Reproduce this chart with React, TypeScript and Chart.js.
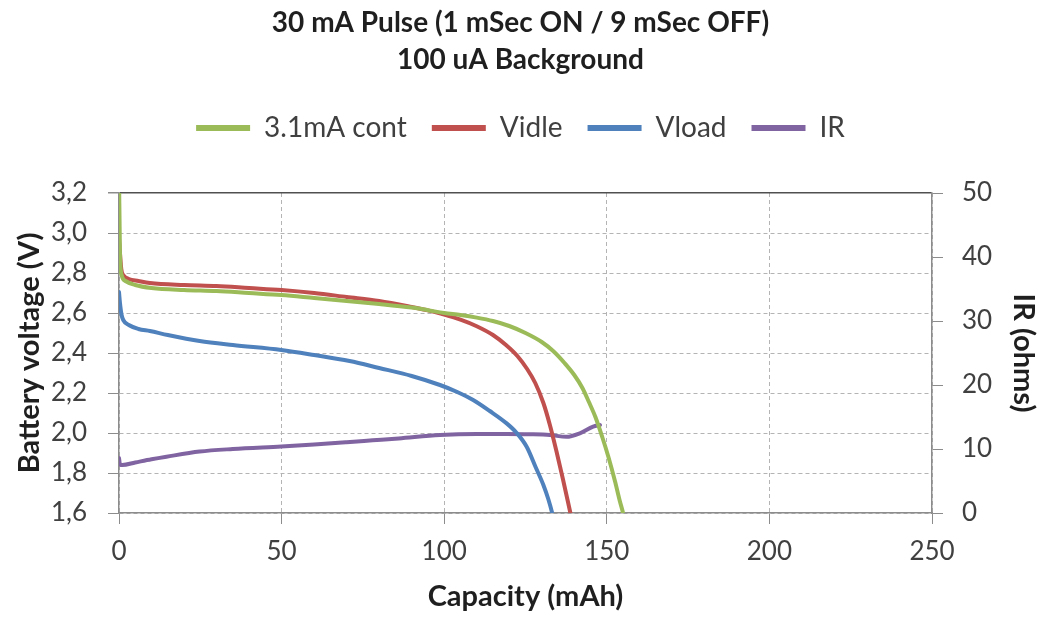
import React, { useEffect, useRef } from 'react';
import { Chart, registerables } from 'chart.js';

Chart.register(...registerables);

const titleLines = ['30 mA Pulse (1 mSec ON / 9 mSec OFF)', '100 uA Background'];
const seriesNames = ['3.1mA cont', 'Vidle', 'Vload', 'IR'];
const seriesColors = ['#9BBB59', '#C0504D', '#4F81BD', '#8064A2'];
const xTitle = 'Capacity (mAh)';
const leftTitle = 'Battery voltage (V)';
const rightTitle = 'IR (ohms)';

// 3.1mA continuous discharge (V)
const contX = [0, 0.3, 0.8, 2, 5, 10, 20, 30, 40, 50, 60, 70, 80, 90, 95, 100, 105, 110, 115, 120, 125, 130, 133.5, 137, 140, 142.5, 144.5, 146.5, 148.6, 150.5, 152.5, 154, 155, 155.4];
const contY = [3.3, 2.9, 2.79, 2.76, 2.74, 2.725, 2.715, 2.71, 2.7, 2.69, 2.675, 2.66, 2.645, 2.627, 2.614, 2.6, 2.59, 2.577, 2.56, 2.535, 2.5, 2.455, 2.41, 2.35, 2.29, 2.225, 2.155, 2.08, 1.98, 1.88, 1.76, 1.66, 1.6, 1.57];

// Vidle (V)
const idleX = [0, 0.3, 0.7, 1.3, 3, 6, 9.5, 20, 30, 40, 50, 60, 70, 80, 90, 95, 100, 105, 110, 115, 119, 122.5, 125.5, 128, 130.5, 132.5, 134.5, 136.5, 138, 138.8, 139.2];
const idleY = [2.97, 2.9, 2.82, 2.79, 2.77, 2.76, 2.75, 2.74, 2.735, 2.725, 2.715, 2.7, 2.68, 2.66, 2.63, 2.613, 2.592, 2.567, 2.534, 2.49, 2.44, 2.385, 2.32, 2.25, 2.15, 2.04, 1.91, 1.77, 1.66, 1.6, 1.57];

// Vload (V)
const loadX = [0, 0.3, 0.8, 1.3, 3, 6, 9.5, 15, 24.8, 35, 49.9, 60, 70.9, 80, 90, 98.7, 104, 108.9, 114, 119.2, 122.3, 125.4, 128.1, 130.5, 132, 133.2, 133.6];
const loadY = [2.705, 2.65, 2.59, 2.565, 2.54, 2.52, 2.51, 2.49, 2.46, 2.44, 2.415, 2.39, 2.36, 2.325, 2.285, 2.24, 2.205, 2.165, 2.11, 2.048, 2.0, 1.93, 1.83, 1.74, 1.67, 1.6, 1.57];

// IR (ohms)
const irX = [0, 0.3, 1, 5, 10, 14.6, 24.8, 35, 49.9, 60, 70, 78, 86, 98.7, 110, 119.2, 126, 132.5, 137.6, 141.7, 145.8, 147.9];
const irY = [8.6, 7.6, 7.5, 7.9, 8.4, 8.8, 9.6, 10.0, 10.4, 10.7, 11.05, 11.35, 11.65, 12.19, 12.35, 12.34, 12.3, 12.19, 11.9, 12.45, 13.5, 13.75];

const xTickValues = [0, 50, 100, 150, 200, 250];
const xTickLabels = ['0', '50', '100', '150', '200', '250'];
const leftTickValues = [1.6, 1.8, 2.0, 2.2, 2.4, 2.6, 2.8, 3.0, 3.2];
const leftTickLabels = ['1,6', '1,8', '2,0', '2,2', '2,4', '2,6', '2,8', '3,0', '3,2'];
const rightTickValues = [0, 10, 20, 30, 40, 50];
const rightTickLabels = ['0', '10', '20', '30', '40', '50'];

const FONT = "Lato, 'Open Sans', sans-serif";
const TICK_COLOR = '#404040';
const TITLE_COLOR = '#1f1f1f';
const GRID_COLOR = '#b4b4b4';
const AXIS_COLOR = '#8c8c8c';

const pts = (xs: number[], ys: number[]) => xs.map((x, i) => ({ x, y: ys[i] }));

export default function App() {
  const ref = useRef<HTMLCanvasElement | null>(null);

  useEffect(() => {
    if (!ref.current) return;
    const seriesData = [pts(contX, contY), pts(idleX, idleY), pts(loadX, loadY), pts(irX, irY)];
    const chart = new Chart(ref.current, {
      type: 'line',
      data: {
        datasets: seriesNames.map((name, i) => ({
          label: name,
          data: seriesData[i],
          borderColor: seriesColors[i],
          backgroundColor: seriesColors[i],
          borderWidth: 4,
          pointRadius: 0,
          cubicInterpolationMode: 'monotone' as const,
          borderCapStyle: 'round' as const,
          borderJoinStyle: 'round' as const,
          yAxisID: i === 3 ? 'y1' : 'y',
        })),
      },
      options: {
        animation: false,
        responsive: false,
        events: [],
        layout: { padding: 0 },
        plugins: {
          tooltip: { enabled: false },
          title: {
            display: true,
            text: titleLines,
            color: TITLE_COLOR,
            font: { family: FONT, size: 28, weight: 'bold', lineHeight: 37 / 28 },
            padding: { top: 4.5, bottom: 10.5 },
          },
          legend: {
            display: true,
            position: 'top',
            weight: 1000,
            labels: {
              color: '#404040',
              font: { family: FONT, size: 28 },
              boxWidth: 54,
              boxHeight: 6,
              padding: 25,
              generateLabels: (c: any) =>
                (Chart.defaults.plugins.legend.labels as any).generateLabels(c).map((l: any) => ({
                  ...l,
                  lineWidth: 0,
                  fillStyle: seriesColors[l.datasetIndex],
                  strokeStyle: seriesColors[l.datasetIndex],
                })),
            },
          } as any,
          subtitle: {
            display: true,
            text: '',
            weight: 500,
            font: { size: 1, lineHeight: 1.2 },
            padding: { top: 39.8, bottom: 0 },
          } as any,
        },
        scales: {
          x: {
            type: 'linear',
            min: 0,
            max: 250,
            afterBuildTicks: (s: any) => { s.ticks = xTickValues.map((v) => ({ value: v })); },
            afterFit: (s: any) => { s.height = 108; },
            ticks: {
              color: TICK_COLOR,
              font: { family: FONT, size: 26 },
              padding: 12.4,
              maxRotation: 0,
              callback: (_v: any, i: number) => xTickLabels[i],
            },
            grid: { color: GRID_COLOR, tickColor: AXIS_COLOR, tickLength: 11, tickBorderDash: [] },
            border: { display: true, color: AXIS_COLOR, width: 1.5, dash: [4, 3] },
            title: {
              display: true,
              text: xTitle,
              color: TITLE_COLOR,
              font: { family: FONT, size: 29, weight: 'bold', lineHeight: 1.2 },
              padding: { top: 0, bottom: 6.6 },
            },
          },
          y: {
            type: 'linear',
            position: 'left',
            min: 1.6,
            max: 3.2,
            afterBuildTicks: (s: any) => { s.ticks = leftTickValues.map((v) => ({ value: v })); },
            afterFit: (s: any) => { s.width = 119; },
            ticks: {
              color: TICK_COLOR,
              font: { family: FONT, size: 26 },
              padding: 21,
              callback: (_v: any, i: number) => leftTickLabels[i],
            },
            grid: {
              color: (ctx: any) => (ctx.tick && ctx.tick.value >= 3.19 ? '#505050' : GRID_COLOR),
              lineWidth: (ctx: any) => (ctx.tick && ctx.tick.value >= 3.19 ? 1.5 : 1),
              tickColor: AXIS_COLOR,
              tickLength: 11,
              tickBorderDash: [],
            },
            border: {
              display: true,
              color: AXIS_COLOR,
              width: 1.5,
              dash: (ctx: any) => (ctx.tick && ctx.tick.value >= 3.19 ? [] : [4, 3]),
            },
            title: {
              display: true,
              text: leftTitle,
              color: TITLE_COLOR,
              font: { family: FONT, size: 29, weight: 'bold', lineHeight: 1.2 },
              padding: { top: 12.6, bottom: 0 },
            },
          },
          y1: {
            type: 'linear',
            position: 'right',
            min: 0,
            max: 50,
            afterBuildTicks: (s: any) => { s.ticks = rightTickValues.map((v) => ({ value: v })); },
            afterFit: (s: any) => { s.width = 109; },
            ticks: {
              color: TICK_COLOR,
              font: { family: FONT, size: 26 },
              padding: 19,
              callback: (_v: any, i: number) => rightTickLabels[i],
            },
            grid: { drawOnChartArea: false, tickColor: AXIS_COLOR, tickLength: 11, tickBorderDash: [] },
            border: { display: true, color: AXIS_COLOR, width: 1.5 },
            title: {
              display: true,
              text: rightTitle,
              color: TITLE_COLOR,
              font: { family: FONT, size: 29, weight: 'bold', lineHeight: 1.2 },
              padding: { top: 0.6, bottom: 0 },
            },
          },
        },
      } as any,
    });
    return () => chart.destroy();
  }, []);

  return (
    <div style={{ position: 'fixed', left: 0, top: 0, width: 1041, height: 621, background: '#ffffff' }}>
      <canvas ref={ref} width={1041} height={621} style={{ display: 'block' }} />
    </div>
  );
}
